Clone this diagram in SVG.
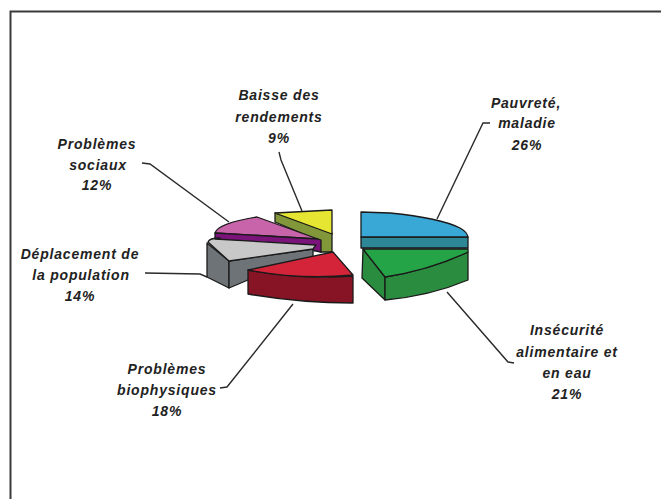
<svg xmlns="http://www.w3.org/2000/svg" width="661" height="499" viewBox="0 0 661 499">
<style>
.lbl{font-family:"Liberation Sans",Arial,sans-serif;font-size:14px;font-weight:bold;font-style:italic;fill:#222;text-anchor:middle;letter-spacing:0.8px}
.edge{stroke:#1a1a1a;stroke-width:1.3;stroke-linejoin:round}
.lead{fill:none;stroke:#2a2a2a;stroke-width:1.4}
</style>
<rect x="0" y="0" width="661" height="499" fill="#fff"/>
<path d="M10.5,499 L10.5,11.5 L661,11.5" fill="none" stroke="#3a3a3a" stroke-width="2"/>

<g id="connectors">
<path class="lead" d="M437,219 L483,123 L490,123"/>
<path class="lead" d="M447,292 L508,362 L514,363"/>
<path class="lead" d="M293,304 L227,387 L220,388"/>
<path class="lead" d="M145,273 L200,274 L207,277"/>
<path class="lead" d="M142,163 L150,164 L229,222"/>
<path class="lead" d="M279,152 L281,160 L302,211"/>
</g>

<g id="slice-baisse">
<path class="edge" fill="#82963a" d="M275,213 L332,233 L332,252 L320,252 L318,240 L275,222 Z"/>
<path class="edge" fill="#e6e632" d="M275,213 L332,210 L332,234 Z"/>
</g>

<g id="slice-sociaux">
<path class="edge" fill="#c864aa" d="M215,233 C217,226 232,221 257,217 L318,239 Z"/>
<path class="edge" fill="#7a147a" d="M215,233 L318,239 L321,240 L321,252 L316,251 L215,239 Z"/>
</g>

<g id="slice-deplacement">
<path class="edge" fill="#6e7378" d="M207,243 L229,261 L229,288 L207,277 Z"/>
<path class="edge" fill="#6e7378" d="M229,261 L313,249 L313,265 L248,280 L229,288 Z"/>
<path class="edge" fill="#c8c8c8" d="M208,242 C209,239 213,238 220,238 L215,239 L316,245 L313,249 L229,261 Z"/>
</g>

<g id="slice-biophysiques">
<path class="edge" fill="#861424" d="M248,270 Q300,280 353,276 L353,303 Q300,303 248,294 Z"/>
<path class="edge" fill="#d4243a" d="M248,270 L333,252 L353,275 Q300,280 248,270 Z"/>
</g>

<g id="slice-pauvrete">
<path class="edge" fill="#2e8796" d="M361,237 L468,237 L468,248 L361,248 Z"/>
<path class="edge" fill="#3aa8d6" d="M361,212 L390,213 Q440,218 460,228 Q467,232 468,237 L361,237 Z"/>
</g>

<g id="slice-insecurite">
<path class="edge" fill="#2a8c3e" d="M363,249 L385,277 L385,300 L362,278 Z"/>
<path class="edge" fill="#2a8c3e" d="M385,277 Q430,270 468,252 L468,280 Q430,296 385,300 Z"/>
<path class="edge" fill="#24a446" d="M363,249 L468,249 L468,252 Q430,270 385,277 Z"/>
</g>

<g id="label-baisse">
<text class="lbl" x="279" y="100">Baisse des</text>
<text class="lbl" x="279" y="122">rendements</text>
<text class="lbl" x="279" y="143">9%</text>
</g>
<g id="label-pauvrete">
<text class="lbl" x="526" y="108">Pauvreté,</text>
<text class="lbl" x="527" y="128">maladie</text>
<text class="lbl" x="527" y="150">26%</text>
</g>
<g id="label-sociaux">
<text class="lbl" x="97" y="149">Problèmes</text>
<text class="lbl" x="98" y="170">sociaux</text>
<text class="lbl" x="97" y="190">12%</text>
</g>
<g id="label-deplacement">
<text class="lbl" x="80" y="259">Déplacement de</text>
<text class="lbl" x="81" y="280">la population</text>
<text class="lbl" x="80" y="301">14%</text>
</g>
<g id="label-biophysiques">
<text class="lbl" x="167" y="374">Problèmes</text>
<text class="lbl" x="167" y="395">biophysiques</text>
<text class="lbl" x="167" y="416">18%</text>
</g>
<g id="label-insecurite">
<text class="lbl" x="567" y="335">Insécurité</text>
<text class="lbl" x="567" y="357">alimentaire et</text>
<text class="lbl" x="567" y="378">en eau</text>
<text class="lbl" x="567" y="399">21%</text>
</g>
</svg>
